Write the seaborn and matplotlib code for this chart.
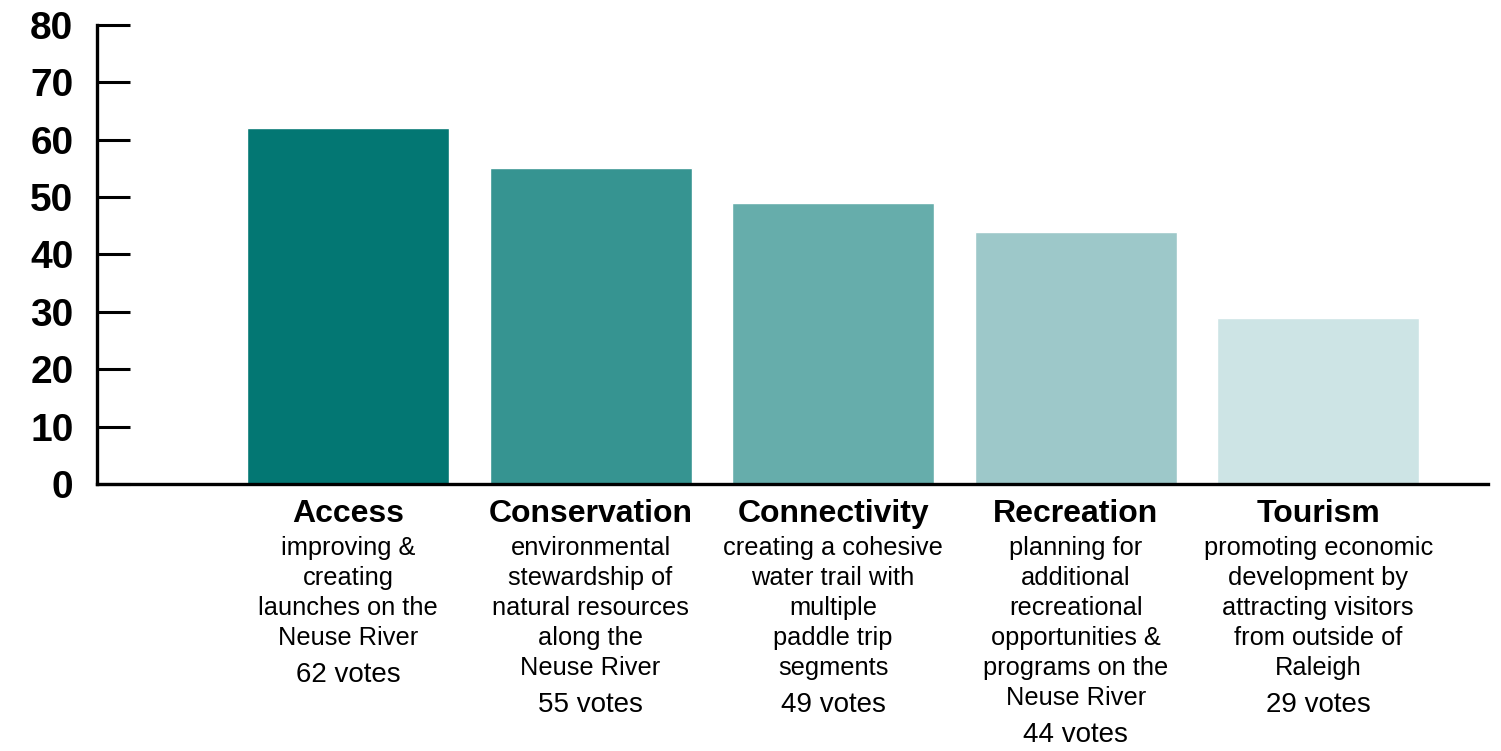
import matplotlib
matplotlib.use("Agg")
import pandas as pd
import seaborn as sns
import matplotlib.pyplot as plt

# chart data
categories = ["Access", "Conservation", "Connectivity", "Recreation", "Tourism"]
votes = [62, 55, 49, 44, 29]
descriptions = [
    ["improving &", "creating", "launches on the", "Neuse River"],
    ["environmental", "stewardship of", "natural resources", "along the", "Neuse River"],
    ["creating a cohesive", "water trail with", "multiple", "paddle trip", "segments"],
    ["planning for", "additional", "recreational", "opportunities &", "programs on the", "Neuse River"],
    ["promoting economic", "development by", "attracting visitors", "from outside of", "Raleigh"],
]
bar_colors = ["#037773", "#369491", "#66ADAB", "#9DC8C9", "#CDE4E5"]
y_ticks = [0, 10, 20, 30, 40, 50, 60, 70, 80]

sns.set_style("white")
plt.rcParams['font.family'] = ['Liberation Sans', 'DejaVu Sans']
plt.rcParams['text.color'] = 'black'

df = pd.DataFrame({"category": categories, "votes": votes})

W, H = 1501, 751
fig = plt.figure(figsize=(W / 100, H / 100), dpi=100)
# axes box in pixels: x 97..1488, y 25..484 (from top)
ax = fig.add_axes([97 / W, (H - 484) / H, (1488 - 97) / W, (484 - 25) / H])

sns.barplot(data=df, x="category", y="votes", hue="category",
            palette=bar_colors, width=0.833, legend=False, ax=ax,
            saturation=1)

ax.set_xlim(-1.035, 4.70)
ax.set_ylim(0, 80)
ax.set_yticks(y_ticks)
ax.set_xticks([])
ax.set_xlabel("")
ax.set_ylabel("")

for s in ["top", "right"]:
    ax.spines[s].set_visible(False)
for s in ["left", "bottom"]:
    ax.spines[s].set_linewidth(2.4)
    ax.spines[s].set_color("black")

ax.tick_params(axis="y", direction="in", length=24, width=2.2, pad=17,
               labelsize=28, colors="black", labelcolor="black", left=True)
for lbl in ax.get_yticklabels():
    lbl.set_fontweight("bold")

# labels below bars, positions in pixels from top of figure
trans = ax.get_xaxis_transform()


def frac(y_px):
    return (484 - y_px) / 459


for i, (cat, n, lines) in enumerate(zip(categories, votes, descriptions)):
    ax.text(i, frac(514), cat, transform=trans, ha="center", va="center",
            fontsize=23, fontweight="bold", color="black", clip_on=False)
    for j, line in enumerate(lines):
        ax.text(i, frac(548 + 30 * j), line, transform=trans, ha="center",
                va="center", fontsize=18.3, color="black", clip_on=False)
    ax.text(i, frac(548 + 30 * len(lines) + 7), f"{n} votes", transform=trans,
            ha="center", va="center", fontsize=20, color="black", clip_on=False,
            family=["Liberation Sans Narrow", "Liberation Sans", "DejaVu Sans"],
            fontstretch="condensed")

fig.savefig("out.png", dpi=100)
